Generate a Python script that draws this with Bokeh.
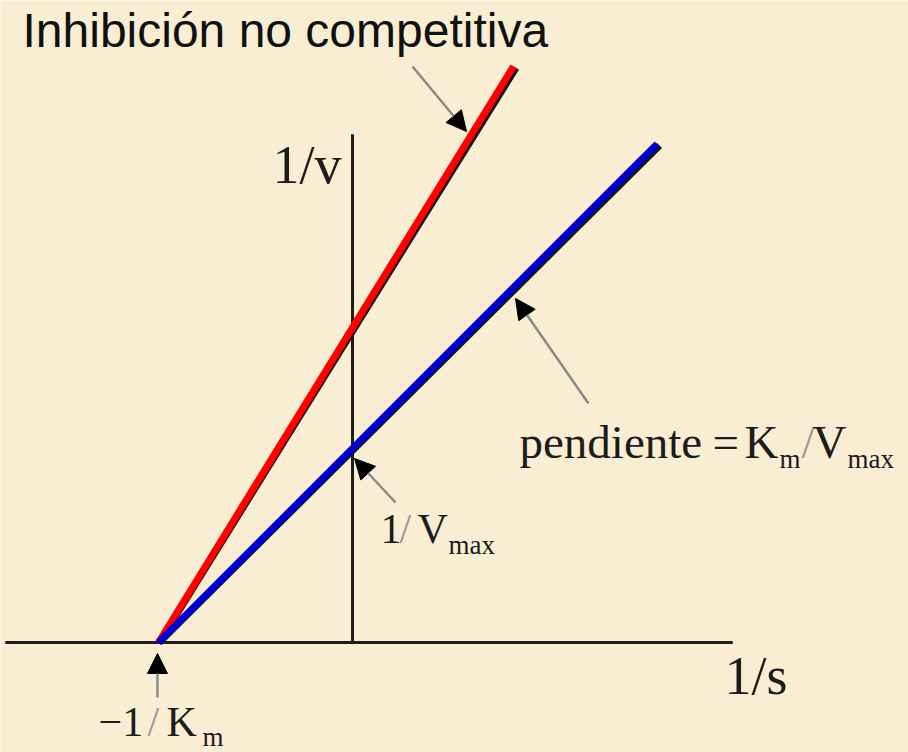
from bokeh.plotting import figure
from bokeh.models import Range1d, Label, Arrow, NormalHead
from bokeh.embed import file_html
from bokeh.resources import INLINE

# Lineweaver-Burk lines, (1/s, 1/v) end points
inv_s_control = [-1.0, 1.57]
inv_v_control = [0.0, 2.57]
inv_s_inhib = [-1.0, 0.83]
inv_v_inhib = [0.0, 2.97]

# hand-drawn axes
x_axis_s = [-1.79, 1.96]
x_axis_v = [0.0, 0.0]
y_axis_s = [0.0, 0.0]
y_axis_v = [0.0, 2.62]

W, H = 908, 752
UNIT = 194          # pixels per unit on both axes
X0, Y0 = 352, 642   # pixel position of the origin


def dx(xp):
    return (xp - X0) / UNIT


def dy(yp):
    return (Y0 - yp) / UNIT


BG = "#F9EED3"
INK = "#1c1c1c"
SERIF = "Liberation Serif"
SANS = "Liberation Sans"

p = figure(width=W, height=H, output_backend="svg", toolbar_location=None,
           x_range=Range1d(dx(0), dx(W)), y_range=Range1d(dy(H), dy(0)),
           x_axis_type=None, y_axis_type=None, min_border=0,
           background_fill_color=BG, border_fill_color=BG)
p.outline_line_color = None
p.grid.visible = False

# axes
p.line(x_axis_s, x_axis_v, line_color=INK, line_width=3)
p.line(y_axis_s, y_axis_v, line_color=INK, line_width=3)

# dark edge under each line
sh_x, sh_y = 2.5 / UNIT, -1.5 / UNIT
for xs, ys in ((inv_s_inhib, inv_v_inhib), (inv_s_control, inv_v_control)):
    p.line([xs[0] + sh_x * 0.3, xs[1] + sh_x], [ys[0], ys[1] + sh_y],
           line_color="#151515", line_width=7)

p.line(inv_s_inhib, inv_v_inhib, line_color="#FF0000", line_width=7)
p.line(inv_s_control, inv_v_control, line_color="#0000CC", line_width=7)

# pointer arrows
arrows = [
    ((412, 66), (466, 131)),
    ((588, 403), (515, 298)),
    ((395, 502), (354, 458)),
    ((157, 697), (157, 653)),
]
for (xs, ys), (xe, ye) in arrows:
    p.add_layout(Arrow(x_start=dx(xs), y_start=dy(ys), x_end=dx(xe), y_end=dy(ye),
                       line_color="#8a8a8a", line_width=2.5,
                       end=NormalHead(size=20, fill_color="black", line_color="black",
                                      line_width=1)))


def put(text, xp, yp, size, font=SERIF, color=INK):
    # yp is the baseline in pixels; lift by the renderer's baseline offset
    lift = 0.39 * size
    p.add_layout(Label(x=dx(xp), y=dy(yp - lift), text=text, text_font=font,
                       text_font_size=f"{size}px", text_color=color,
                       text_baseline="alphabetic", text_align="left"))


put("Inhibición no competitiva", 22, 49, 48, font=SANS, color="#111111")

put("1/v", 272, 186, 54)
put("1/s", 724, 697, 54)

# slope label
put("pendiente", 519, 460, 47)
put("=", 712, 460, 47)
put("K", 744, 460, 47)
put("m", 779, 469, 27)
put("/", 801, 460, 47, color="#9a9a9a")
put("V", 812, 460, 47)
put("max", 847, 469, 27)

# y intercept label
put("1", 380, 545, 42)
put("/", 399, 545, 42, color="#9a9a9a")
put("V", 417, 545, 42)
put("max", 448, 555, 27)

# x intercept label
put("\u22121", 98, 738, 42)
put("/", 147, 738, 42, color="#9a9a9a")
put("K", 166, 738, 42)
put("m", 202, 747, 27)

open("out.html", "w").write(file_html(p, INLINE))
